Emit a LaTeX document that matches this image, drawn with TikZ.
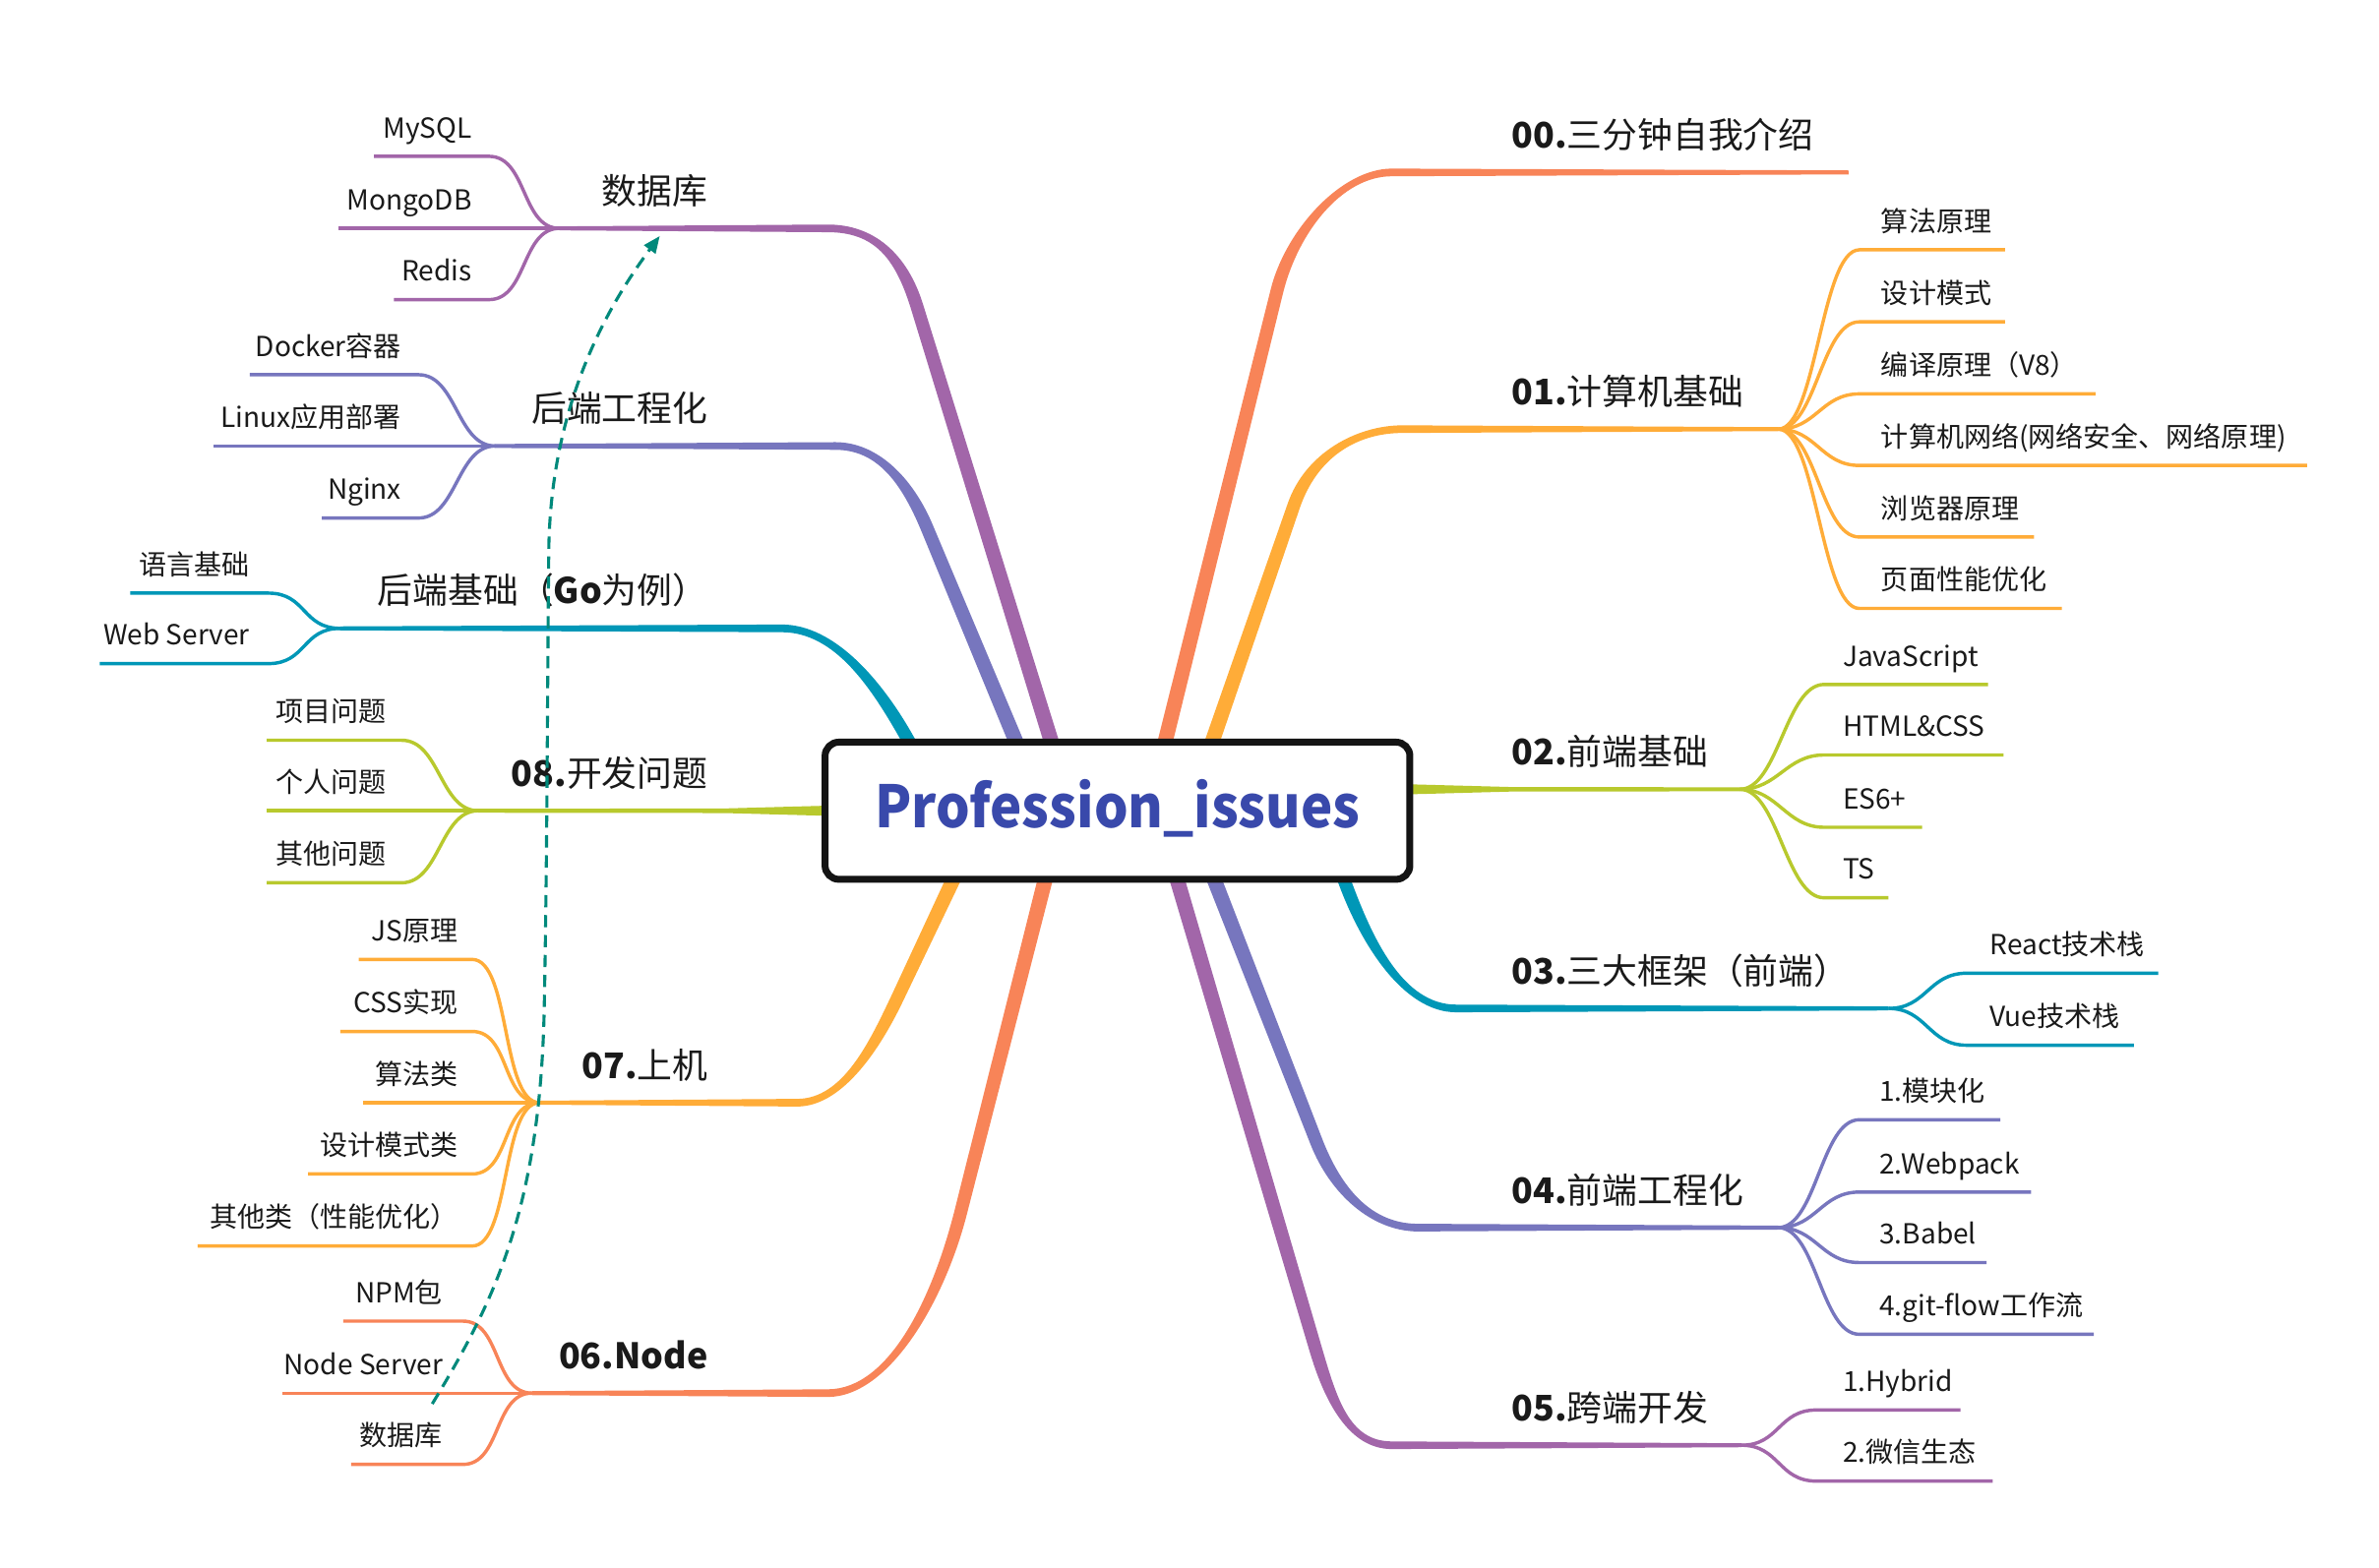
\documentclass[tikz,border=0pt]{standalone}
\usepackage{fontspec}
\usepackage{graphicx}
\setmainfont{Noto Sans CJK SC}
\usetikzlibrary{calc,arrows.meta}
\definecolor{cRed}{HTML}{F88458}
\definecolor{cAmb}{HTML}{FFAC38}
\definecolor{cLime}{HTML}{B8C92D}
\definecolor{cTeal}{HTML}{0097B7}
\definecolor{cInd}{HTML}{7776BE}
\definecolor{cPur}{HTML}{A266A9}
\definecolor{cDash}{HTML}{00897B}
\definecolor{cTitle}{HTML}{3949AB}
\definecolor{cBox}{HTML}{141414}
\definecolor{cText}{HTML}{1A1A1A}
\tikzset{
  kidline/.style={line width=2.2pt},
  kidlab/.style={inner sep=0pt, text=cText, font=\fontsize{18}{20}\selectfont},
  toplab/.style={inner sep=0pt, text=cText, font=\fontsize{23}{26}\selectfont},
  rootbox/.style={draw=cBox, line width=4.5pt, fill=white, rounded corners=9pt,
    minimum width=381.5pt, minimum height=89.5pt, inner sep=0pt,
    text height=28pt, text depth=6pt, text=cTitle,
    font=\bfseries\fontsize{38}{42}\selectfont},
  dasharrow/.style={draw=cDash, line width=2pt, dash pattern=on 8pt off 5pt,
    -{Triangle[length=11pt,width=9pt]}}
}
% tapered main branch: colour, S, P, C1, C2, T, E
\newcommand{\mbranch}[7]{%
  \fill[#1] ($(#2)!5pt!90:(#3)$) -- ($(#3)!4.2pt!-90:(#2)$)
    .. controls ($(#4)!4.2pt!-90:(#3)$) and ($(#5)!2.5pt!90:(#6)$) .. ($(#6)!2.5pt!90:(#7)$)
    -- ($(#7)!1.3pt!-90:(#6)$) -- ($(#7)!1.3pt!90:(#6)$) -- ($(#6)!2.5pt!-90:(#7)$)
    .. controls ($(#5)!2.5pt!-90:(#6)$) and ($(#4)!4.2pt!90:(#3)$) .. ($(#3)!4.2pt!90:(#2)$)
    -- ($(#2)!5pt!-90:(#3)$) -- cycle;}
% child on the right: id, colour, junction, u1x, y, u2x, labelx, text
\newcommand{\kidR}[8]{%
  \coordinate (#1u) at (#4,#5);
  \coordinate (#1v) at (#6,#5);
  \draw[#2,kidline] (#3) to[out=0,in=180,distance=25pt] (#1u) -- (#1v);
  \node[kidlab,anchor=base west] (#1) at (#7,#5-12) {#8};}
% child on the left: id, colour, junction, u1x, y, u2x, labelx(right edge), text
\newcommand{\kidL}[8]{%
  \coordinate (#1u) at (#4,#5);
  \coordinate (#1v) at (#6,#5);
  \draw[#2,kidline] (#3) to[out=180,in=0,distance=25pt] (#1u) -- (#1v);
  \node[kidlab,anchor=base east] (#1) at (#7,#5-12) {#8};}

\begin{document}
\begin{tikzpicture}[x=1pt,y=-1pt]
\fill[white] (0,0) rectangle (1552,1023);
\useasboundingbox (0,0) rectangle (1552,1023);

% ---------- main branch coordinates ----------
\coordinate (s00) at (748.7,530); \coordinate (p00) at (833,190);   \coordinate (a00) at (842.6,151.2);
\coordinate (b00) at (875,112.5); \coordinate (t00) at (908,112.5); \coordinate (j00) at (1206,112.5);
\coordinate (s01) at (774.9,530); \coordinate (p01) at (844,330);   \coordinate (a01) at (855.4,297);
\coordinate (b01) at (885,280);   \coordinate (t01) at (915,280);   \coordinate (j01) at (1160,280);
\coordinate (s03) at (860.5,530); \coordinate (p03) at (877.5,576); \coordinate (a03) at (891.4,613.5);
\coordinate (b03) at (915,658);   \coordinate (t03) at (950,658);   \coordinate (j03) at (1232,658);
\coordinate (s04) at (775,530);   \coordinate (p04) at (858.8,745); \coordinate (a04) at (871.6,777.6);
\coordinate (b04) at (895,801);   \coordinate (t04) at (925,801);   \coordinate (j04) at (1160,801);
\coordinate (s05) at (755,530);   \coordinate (p05) at (858.2,880); \coordinate (a05) at (868.1,913.6);
\coordinate (b05) at (880,943);   \coordinate (t05) at (908,943);   \coordinate (j05) at (1136,943);
\coordinate (sdb) at (700.1,530); \coordinate (pdb) at (598.2,200); \coordinate (adb) at (587.9,166.6);
\coordinate (bdb) at (570,149);   \coordinate (tdb) at (540,149);   \coordinate (jdb) at (365,149);
\coordinate (sbe) at (682,530);   \coordinate (pbe) at (605,345);   \coordinate (abe) at (591.6,312.7);
\coordinate (bbe) at (572,291);   \coordinate (tbe) at (545,291);   \coordinate (jbe) at (323,291);
\coordinate (sbb) at (619,530);   \coordinate (pbb) at (592,482);   \coordinate (abb) at (572.4,447.2);
\coordinate (bbb) at (545,410);   \coordinate (tbb) at (510,410);   \coordinate (jbb) at (222,410);
\coordinate (s07) at (642.6,530); \coordinate (p07) at (586,650);   \coordinate (a07) at (571,681.7);
\coordinate (b07) at (550,719.5); \coordinate (t07) at (520,719.5); \coordinate (j07) at (352,719.5);
\coordinate (s06) at (693,530);   \coordinate (p06) at (627,790);   \coordinate (a06) at (612.4,848);
\coordinate (b06) at (580,909);   \coordinate (t06) at (540,909);   \coordinate (j06) at (347,909);
\coordinate (s02) at (895,515);   \coordinate (m02) at (922,515);   \coordinate (n02) at (985,515);   \coordinate (j02) at (1135,515);
\coordinate (s08) at (563,529);   \coordinate (m08) at (536,529);   \coordinate (n08) at (473,529);   \coordinate (j08) at (312,529);

% ---------- main branches ----------
\mbranch{cRed}{s00}{p00}{a00}{b00}{t00}{j00}
\mbranch{cAmb}{s01}{p01}{a01}{b01}{t01}{j01}
\mbranch{cTeal}{s03}{p03}{a03}{b03}{t03}{j03}
\mbranch{cInd}{s04}{p04}{a04}{b04}{t04}{j04}
\mbranch{cPur}{s05}{p05}{a05}{b05}{t05}{j05}
\mbranch{cPur}{sdb}{pdb}{adb}{bdb}{tdb}{jdb}
\mbranch{cInd}{sbe}{pbe}{abe}{bbe}{tbe}{jbe}
\mbranch{cTeal}{sbb}{pbb}{abb}{bbb}{tbb}{jbb}
\mbranch{cAmb}{s07}{p07}{a07}{b07}{t07}{j07}
\mbranch{cRed}{s06}{p06}{a06}{b06}{t06}{j06}
\fill[cLime] ($(s02)+(0,-3.6)$) -- ($(m02)+(0,-3.2)$) -- ($(n02)+(0,-1.5)$) -- ($(j02)+(0,-1.3)$)
  -- ($(j02)+(0,1.3)$) -- ($(n02)+(0,1.5)$) -- ($(m02)+(0,3.2)$) -- ($(s02)+(0,3.6)$) -- cycle;
\fill[cLime] ($(s08)+(0,-3.6)$) -- ($(m08)+(0,-3.2)$) -- ($(n08)+(0,-1.5)$) -- ($(j08)+(0,-1.3)$)
  -- ($(j08)+(0,1.3)$) -- ($(n08)+(0,1.5)$) -- ($(m08)+(0,3.2)$) -- ($(s08)+(0,3.6)$) -- cycle;

% ---------- main labels ----------
\node[toplab,anchor=base west] (l00) at (986,96.5) {\textbf{00.}三分钟自我介绍};
\node[toplab,anchor=base west] (l01) at (986,264) {\textbf{01.}计算机基础};
\node[toplab,anchor=base west] (l02) at (986,499) {\textbf{02.}前端基础};
\node[toplab,anchor=base west] (l03) at (986,642) {\textbf{03.}三大框架（前端）};
\node[toplab,anchor=base west] (l04) at (986,785) {\textbf{04.}前端工程化};
\node[toplab,anchor=base west] (l05) at (986,927) {\textbf{05.}跨端开发};
\node[toplab,anchor=base east] (ldb) at (462,133) {数据库};
\node[toplab,anchor=base east] (lbe) at (462,275) {后端工程化};
\node[toplab,anchor=base east] (lbb) at (462,394) {后端基础（\textbf{Go}为例）};
\node[toplab,anchor=base east] (l08) at (462,513) {\textbf{08.}开发问题};
\node[toplab,anchor=base east] (l07) at (462,703.5) {\textbf{07.}上机};
\node[toplab,anchor=base east] (l06) at (462,893) {\textbf{06.Node}};

% ---------- children, right ----------
\kidR{k11}{cAmb}{j01}{1213}{163}{1308}{1227}{算法原理}
\kidR{k12}{cAmb}{j01}{1213}{210}{1308}{1227}{设计模式}
\kidR{k13}{cAmb}{j01}{1213}{257}{1367}{1227}{编译原理（V8）}
\kidR{k14}{cAmb}{j01}{1213}{303.7}{1505}{1227}{计算机网络(网络安全、网络原理)}
\kidR{k15}{cAmb}{j01}{1213}{350.4}{1327}{1227}{浏览器原理}
\kidR{k16}{cAmb}{j01}{1213}{397}{1345}{1227}{页面性能优化}
\kidR{k21}{cLime}{j02}{1190}{446.6}{1297}{1202}{JavaScript}
\kidR{k22}{cLime}{j02}{1190}{492.6}{1307}{1202}{HTML\&CSS}
\kidR{k23}{cLime}{j02}{1190}{539.8}{1254}{1202}{ES6+}
\kidR{k24}{cLime}{j02}{1190}{585.8}{1232}{1202}{TS}
\kidR{k31}{cTeal}{j03}{1283}{635}{1408}{1298}{React技术栈}
\kidR{k32}{cTeal}{j03}{1283}{682}{1392}{1298}{Vue技术栈}
\kidR{k41}{cInd}{j04}{1213}{730.6}{1305}{1226}{1.模块化}
\kidR{k42}{cInd}{j04}{1213}{777.8}{1325}{1226}{2.Webpack}
\kidR{k43}{cInd}{j04}{1213}{823.8}{1296}{1226}{3.Babel}
\kidR{k44}{cInd}{j04}{1213}{870.6}{1366}{1226}{4.git-flow工作流}
\kidR{k51}{cPur}{j05}{1185}{920}{1279}{1202}{1.Hybrid}
\kidR{k52}{cPur}{j05}{1185}{966.4}{1300}{1202}{2.微信生态}

% ---------- children, left ----------
\kidL{d1}{cPur}{jdb}{319}{102}{244}{308}{MySQL}
\kidL{d2}{cPur}{jdb}{319}{149}{221}{308}{MongoDB}
\kidL{d3}{cPur}{jdb}{319}{195.5}{257}{308}{Redis}
\kidL{e1}{cInd}{jbe}{273}{244.5}{163}{262}{Docker容器}
\kidL{e2}{cInd}{jbe}{273}{291}{139}{262}{Linux应用部署}
\kidL{e3}{cInd}{jbe}{273}{338}{210}{262}{Nginx}
\kidL{g1}{cTeal}{jbb}{175}{387}{85}{163}{语言基础}
\kidL{g2}{cTeal}{jbb}{175}{433}{65}{163}{Web Server}
\kidL{h1}{cLime}{j08}{262}{483}{174}{252}{项目问题}
\kidL{h2}{cLime}{j08}{262}{529}{174}{252}{个人问题}
\kidL{h3}{cLime}{j08}{262}{576}{174}{252}{其他问题}
\kidL{m1}{cAmb}{j07}{308}{626}{234}{299}{JS原理}
\kidL{m2}{cAmb}{j07}{308}{673}{222}{299}{CSS实现}
\kidL{m3}{cAmb}{j07}{308}{719.5}{237}{299}{算法类}
\kidL{m4}{cAmb}{j07}{308}{766}{201}{299}{设计模式类}
\kidL{m5}{cAmb}{j07}{308}{813}{129}{299}{其他类（性能优化）}
\kidL{q1}{cRed}{j06}{302}{862}{224}{289}{NPM包}
\kidL{q2}{cRed}{j06}{302}{909}{184}{289}{Node Server}
\kidL{q3}{cRed}{j06}{302}{955.5}{229}{289}{数据库}

% ---------- central topic ----------
\node[rootbox] (root) at (729,529) {\scalebox{0.92}[1]{Profession\_issues}};

% ---------- dashed relation ----------
\coordinate (dA) at (282,916);
\coordinate (dB) at (355,660);
\coordinate (dC) at (358,360);
\coordinate (dD) at (430.4,154);
\draw[dasharrow] (dA) .. controls (322,850) and (352,790) .. (dB)
  .. controls (357,560) and (357,460) .. (dC)
  .. controls (359,260) and (400,195) .. (dD);
\end{tikzpicture}
\end{document}
